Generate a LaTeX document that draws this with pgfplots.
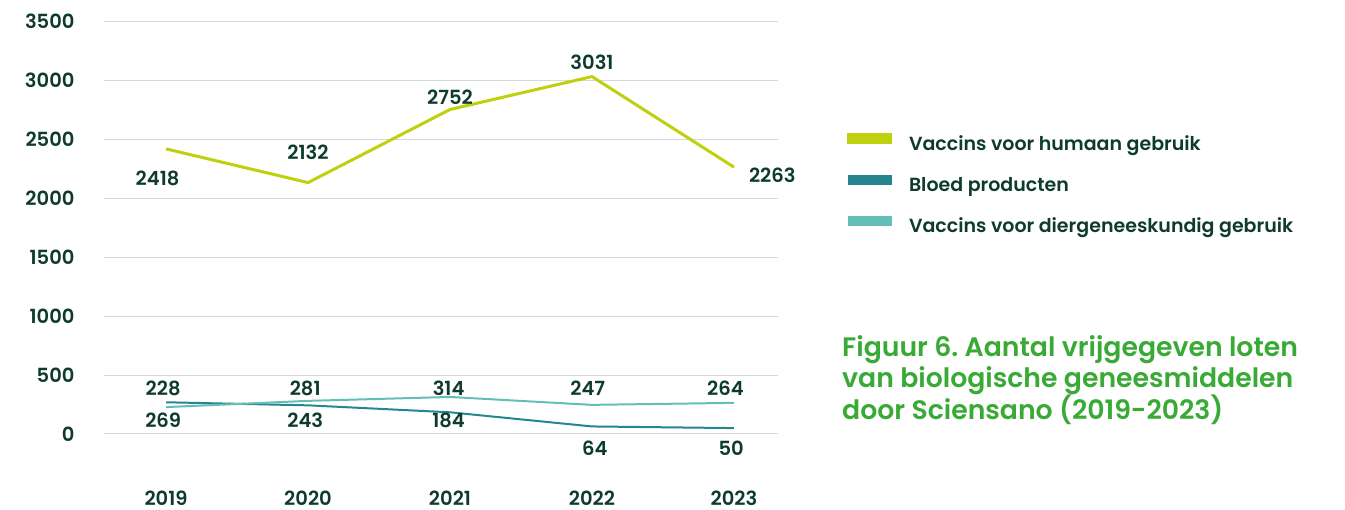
\documentclass[border=0pt]{standalone}
\usepackage{fontspec}
\setmainfont{Poppins}[BoldFont={Poppins SemiBold}]
\usepackage{pgfplots}
\pgfplotsset{compat=1.18}
\definecolor{limec}{HTML}{BED00E}
\definecolor{dteal}{HTML}{268591}
\definecolor{lteal}{HTML}{62BEB6}
\definecolor{txt}{HTML}{0E3B2E}
\definecolor{ttl}{HTML}{39AA35}
\definecolor{gridc}{HTML}{D3DADA}
\frenchspacing
\begin{document}
\begin{tikzpicture}[x=1pt,y=1pt]
\path[use as bounding box] (0,0) rectangle (1345,510);
\begin{axis}[
  at={(104pt,76pt)}, anchor=south west,
  scale only axis, width=674pt, height=412.7pt,
  xmin=-0.437, xmax=4.31, ymin=0, ymax=3500,
  xtick={0,1,2,3,4}, xticklabels={2019,2020,2021,2022,2023},
  ytick={0,500,1000,1500,2000,2500,3000,3500},
  ymajorgrids, grid style={gridc, line width=1pt},
  axis line style={draw=none}, major tick length=0pt,
  tick label style={font=\fontsize{19.5}{23}\selectfont\bfseries, text=txt},
  /pgf/number format/assume math mode=true, /pgf/number format/1000 sep={},
  yticklabel style={xshift=-26pt},
  xticklabel style={yshift=-53pt, text depth=0pt},
  clip=false,
  legend style={draw=none, fill=none, at={(axis description cs:1.1024,0.729)}, anchor=north west,
    inner sep=0pt, outer sep=0pt, font=\fontsize{19}{23}\selectfont\bfseries, text=txt,
    row sep=20pt, nodes={inner sep=0pt, text height=14pt, text depth=4pt},
    /tikz/every odd column/.style={column sep=17pt}},
  legend cell align=left,
  legend image code/.code={\fill[#1] (0pt,3pt) rectangle (42pt,11pt);},
]
\addplot[limec, line width=3pt] coordinates {(0,2418)(1,2132)(2,2752)(3,3031)(4,2263)};
\addlegendentry{Vaccins voor humaan gebruik}
\addplot[dteal, line width=2pt] coordinates {(0,269)(1,243)(2,184)(3,64)(4,50)};
\addlegendentry{Bloed producten}
\addplot[lteal, line width=2pt] coordinates {(0,228)(1,281)(2,314)(3,247)(4,264)};
\addlegendentry{Vaccins voor diergeneeskundig gebruik}
\tikzset{lbl/.style={font=\fontsize{19.5}{23}\selectfont\bfseries, text=txt, inner sep=0pt}}
\node[lbl] at (axis cs:-0.06,2171) {2418};
\node[lbl] at (axis cs:1.0,2392) {2132};
\node[lbl] at (axis cs:2.0,2858) {2752};
\node[lbl] at (axis cs:3.0,3155) {3031};
\node[lbl] at (axis cs:4.27,2197) {2263};
\node[lbl] at (axis cs:-0.02,390) {228};
\node[lbl] at (axis cs:-0.02,119) {269};
\node[lbl] at (axis cs:0.98,390) {281};
\node[lbl] at (axis cs:0.98,119) {243};
\node[lbl] at (axis cs:1.99,390) {314};
\node[lbl] at (axis cs:1.99,119) {184};
\node[lbl] at (axis cs:2.97,390) {247};
\node[lbl] at (axis cs:3.02,-119) {64};
\node[lbl] at (axis cs:3.94,390) {264};
\node[lbl] at (axis cs:3.98,-119) {50};
\end{axis}
\begin{scope}[every node/.style={anchor=base west, inner sep=0pt, text=ttl, font=\fontsize{26.7}{31}\selectfont\bfseries}]
\node at (842,153) {Figuur 6. Aantal vrijgegeven loten};
\node at (842,122) {van biologische geneesmiddelen};
\node at (842,90) {door Sciensano (2019-2023)};
\end{scope}
\end{tikzpicture}
\end{document}
